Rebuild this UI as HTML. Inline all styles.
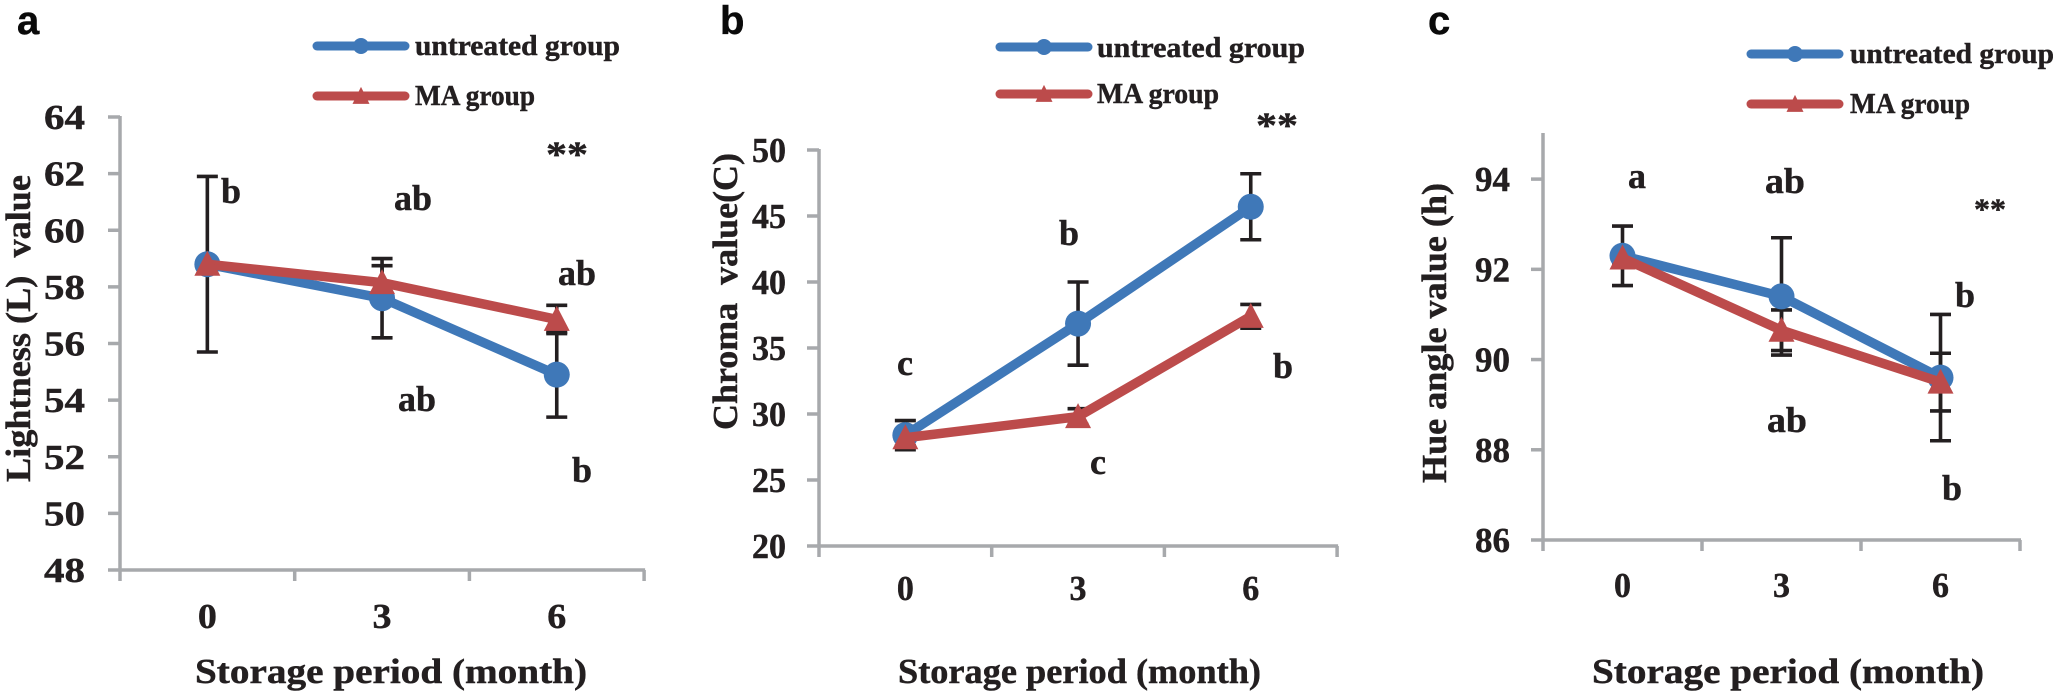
<!DOCTYPE html>
<html lang="en">
<head>
<meta charset="utf-8">
<title>Storage period charts</title>
<style>
html,body{margin:0;padding:0;background:#fff;width:2055px;height:696px;overflow:hidden}
svg{display:block}
text{font-family:"Liberation Serif",serif;font-weight:700;fill:#231f20;stroke:#231f20;stroke-width:.45px;white-space:pre}
.panel-letter{font-family:"Liberation Sans",sans-serif;font-size:40px;fill:#0a0a0a;stroke:#0a0a0a}
.note{font-size:36px}
.title{font-size:35px}
.legend{font-size:29px}
</style>
</head>
<body>
<svg id="figure" xmlns="http://www.w3.org/2000/svg" width="2055" height="696" viewBox="0 0 2055 696">
  <rect x="0" y="0" width="2055" height="696" fill="#ffffff"/>

  <g id="panel-a">
    <text class="panel-letter" x="17" y="34">a</text>
    <text class="title" transform="translate(30,482) rotate(-90)" textLength="307" lengthAdjust="spacingAndGlyphs">Lightness (L)  value</text>
    <text class="title" x="195" y="683" textLength="392" lengthAdjust="spacingAndGlyphs">Storage period (month)</text>
    <text class="note" x="221" y="203">b</text>
    <text class="note" x="394" y="210" textLength="38" lengthAdjust="spacingAndGlyphs">ab</text>
    <text class="note" x="558" y="285" textLength="38" lengthAdjust="spacingAndGlyphs">ab</text>
    <text class="note" x="398" y="411" textLength="38" lengthAdjust="spacingAndGlyphs">ab</text>
    <text class="note" x="572" y="482">b</text>
    <text class="note" x="546" y="166" textLength="42" lengthAdjust="spacingAndGlyphs">**</text>
    <text class="legend" x="415" y="55" textLength="205" lengthAdjust="spacingAndGlyphs">untreated group</text>
    <text class="legend" x="415" y="105" textLength="120" lengthAdjust="spacingAndGlyphs">MA group</text>
  </g>

  <g id="panel-b">
    <text class="panel-letter" x="720" y="34">b</text>
    <text class="title" transform="translate(737,430) rotate(-90)" textLength="277" lengthAdjust="spacingAndGlyphs">Chroma  value(C)</text>
    <text class="title" x="898" y="683" textLength="363" lengthAdjust="spacingAndGlyphs">Storage period (month)</text>
    <text class="note" x="1059" y="245">b</text>
    <text class="note" x="897" y="375">c</text>
    <text class="note" x="1090" y="474">c</text>
    <text class="note" x="1273" y="378">b</text>
    <text class="note" x="1256" y="137" textLength="42" lengthAdjust="spacingAndGlyphs">**</text>
    <text class="legend" x="1097" y="57" textLength="208" lengthAdjust="spacingAndGlyphs">untreated group</text>
    <text class="legend" x="1097" y="103" textLength="122" lengthAdjust="spacingAndGlyphs">MA group</text>
  </g>

  <g id="panel-c">
    <text class="panel-letter" x="1428" y="34">c</text>
    <text class="title" transform="translate(1446,483) rotate(-90)" textLength="300" lengthAdjust="spacingAndGlyphs">Hue angle value (h)</text>
    <text class="title" x="1592" y="683" textLength="392" lengthAdjust="spacingAndGlyphs">Storage period (month)</text>
    <text class="note" x="1628" y="188">a</text>
    <text class="note" x="1765" y="193" textLength="40" lengthAdjust="spacingAndGlyphs">ab</text>
    <text class="note" x="1955" y="307">b</text>
    <text class="note" x="1767" y="432" textLength="40" lengthAdjust="spacingAndGlyphs">ab</text>
    <text class="note" x="1942" y="500">b</text>
    <text class="note" x="1974" y="219" style="font-size:30px" textLength="32" lengthAdjust="spacingAndGlyphs">**</text>
    <text class="legend" x="1850" y="63" textLength="204" lengthAdjust="spacingAndGlyphs">untreated group</text>
    <text class="legend" x="1850" y="113" textLength="120" lengthAdjust="spacingAndGlyphs">MA group</text>
  </g>
</svg>

<script>
// Chart data
const categories = ['0', '3', '6'];

const lightnessTicks = [48, 50, 52, 54, 56, 58, 60, 62, 64];
const lightnessUntreated = [58.8, 57.6, 54.9];
const lightnessUntreatedErr = [3.1, 1.4, 1.5];
const lightnessMA = [58.8, 58.15, 56.85];
const lightnessMAErr = [0.1, 0.6, 0.5];

const chromaTicks = [20, 25, 30, 35, 40, 45, 50];
const chromaUntreated = [28.4, 36.85, 45.7];
const chromaUntreatedErr = [1.1, 3.15, 2.5];
const chromaMA = [28.2, 29.8, 37.4];
const chromaMAErr = [0.6, 0.6, 0.9];

const hueTicks = [86, 88, 90, 92, 94];
const hueUntreated = [92.3, 91.4, 89.6];
const hueUntreatedErr = [0.66, 1.3, 1.4];
const hueMA = [92.25, 90.65, 89.5];
const hueMAErr = [0.1, 0.45, 0.64];

// Layout for each panel
const AXIS = '#a7a9ac', BLUE = '#3f78b8', RED = '#bc4b4b', INK = '#231f20';
const panels = [
  { id: 'panel-a', key: 'a', x0: 120, step: 174.7, yBottom: 570, yTop: 117, min: 48, max: 64, topTick: true,
    ticks: lightnessTicks, blue: lightnessUntreated, blueErr: lightnessUntreatedErr, red: lightnessMA, redErr: lightnessMAErr,
    labelRight: 85, labelWidth: 41, xLabelY: 628, xLabelWidth: 19,
    legendX0: 313, legendX1: 409, legendY0: 46, legendY1: 96 },
  { id: 'panel-b', key: 'b', x0: 819, step: 172.7, yBottom: 546, yTop: 150, min: 20, max: 50, topTick: true,
    ticks: chromaTicks, blue: chromaUntreated, blueErr: chromaUntreatedErr, red: chromaMA, redErr: chromaMAErr,
    labelRight: 786, labelWidth: 34, xLabelY: 600, xLabelWidth: 17,
    legendX0: 996, legendX1: 1092, legendY0: 47, legendY1: 94 },
  { id: 'panel-c', key: 'c', x0: 1543, step: 159, yBottom: 540, yTop: 134, min: 86, max: 95, topTick: false,
    ticks: hueTicks, blue: hueUntreated, blueErr: hueUntreatedErr, red: hueMA, redErr: hueMAErr,
    labelRight: 1510, labelWidth: 35, xLabelY: 597, xLabelWidth: 17,
    legendX0: 1747, legendX1: 1843, legendY0: 54, legendY1: 104 }
];

const NS = 'http://www.w3.org/2000/svg';
function make(tag, props, parent) {
  const e = document.createElementNS(NS, tag);
  for (const k in props) e.setAttribute(k, props[k]);
  parent.appendChild(e);
  return e;
}
function xScale(p, i) { return p.x0 + p.step * (i + 0.5); }
function yScale(p, v) { return p.yBottom - (v - p.min) / (p.max - p.min) * (p.yBottom - p.yTop); }
function trianglePoints(cx, cy, w, h) {
  return [cx, cy - h * 0.54, cx + w / 2, cy + h * 0.46, cx - w / 2, cy + h * 0.46].join(',');
}

function drawErrorBars(p, group, values, errs, seriesName) {
  values.forEach(function (v, i) {
    const x = xScale(p, i);
    const hi = yScale(p, v + errs[i]);
    const lo = yScale(p, v - errs[i]);
    const bar = make('path', {
      d: 'M' + x + ' ' + hi + 'V' + lo + 'M' + (x - 10.5) + ' ' + hi + 'H' + (x + 10.5) + 'M' + (x - 10.5) + ' ' + lo + 'H' + (x + 10.5),
      fill: 'none', stroke: INK, 'stroke-width': 3.6
    }, group);
    
    
  });
}

function drawSeries(p, group, values, color, seriesName, marker) {
  const pts = values.map(function (v, i) { return xScale(p, i) + ',' + yScale(p, v); }).join(' ');
  const line = make('polyline', { points: pts, fill: 'none', stroke: color, 'stroke-width': 9.5, 'stroke-linejoin': 'round' }, group);
  
  
  values.forEach(function (v, i) {
    const x = xScale(p, i), y = yScale(p, v);
    let m;
    if (marker === 'circle') {
      m = make('circle', { cx: x, cy: y, r: 13, fill: color }, group);
    } else {
      m = make('polygon', { points: trianglePoints(x, y, 26, 25), fill: color }, group);
    }
    
    
  });
}

panels.forEach(function (p) {
  const root = document.getElementById(p.id);

  // Axes
  const axes = make('g', { fill: 'none', stroke: AXIS, 'stroke-width': 3.5 }, root);
  
  
  const xEnd = p.x0 + p.step * categories.length;
  const yAxis = make('line', { x1: p.x0, x2: p.x0, y1: p.yTop - 1, y2: p.yBottom + 1 }, axes);
  
  
  const xAxis = make('line', { x1: p.x0 - 12, x2: xEnd + 1, y1: p.yBottom, y2: p.yBottom }, axes);
  
  

  p.ticks.forEach(function (t) {
    const y = yScale(p, t);
    if (t !== p.min) {
      const tick = make('line', { x1: p.x0 - 12, x2: p.x0, y1: y, y2: y }, axes);
      
      
    }
    const label = make('text', { x: p.labelRight, y: y + 12, 'text-anchor': 'end', 'font-size': 35, textLength: p.labelWidth, lengthAdjust: 'spacingAndGlyphs' }, root);
    label.textContent = String(t);
    
    
  });

  for (let i = 0; i <= categories.length; i++) {
    const x = p.x0 + p.step * i;
    const tick = make('line', { x1: x, x2: x, y1: p.yBottom, y2: p.yBottom + 11 }, axes);
    
    
  }
  categories.forEach(function (c, i) {
    const label = make('text', { x: xScale(p, i) - p.xLabelWidth / 2, y: p.xLabelY, 'font-size': 35, textLength: p.xLabelWidth, lengthAdjust: 'spacingAndGlyphs' }, root);
    label.textContent = c;
    
    
  });

  // Series
  const marks = make('g', {}, root);
  
  
  drawErrorBars(p, marks, p.blue, p.blueErr, 'untreated-' + p.key);
  drawErrorBars(p, marks, p.red, p.redErr, 'ma-' + p.key);
  drawSeries(p, marks, p.blue, BLUE, 'untreated-' + p.key, 'circle');
  drawSeries(p, marks, p.red, RED, 'ma-' + p.key, 'triangle');

  // Legend swatches
  const mid = (p.legendX0 + p.legendX1) / 2;
  const blueSwatch = make('g', {}, root);
  
  
  make('line', { x1: p.legendX0 + 4, x2: p.legendX1 - 4, y1: p.legendY0, y2: p.legendY0, stroke: BLUE, 'stroke-width': 9, 'stroke-linecap': 'round' }, blueSwatch);
  make('circle', { cx: mid, cy: p.legendY0, r: 8, fill: BLUE }, blueSwatch);
  const redSwatch = make('g', {}, root);
  
  
  make('line', { x1: p.legendX0 + 4, x2: p.legendX1 - 4, y1: p.legendY1, y2: p.legendY1, stroke: RED, 'stroke-width': 9, 'stroke-linecap': 'round' }, redSwatch);
  make('polygon', { points: trianglePoints(mid, p.legendY1, 17, 17), fill: RED }, redSwatch);
});
</script>
</body>
</html>
